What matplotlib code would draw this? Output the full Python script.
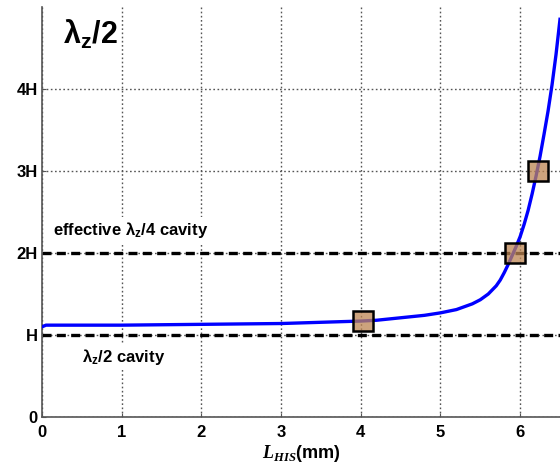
import matplotlib
matplotlib.use("Agg")
import matplotlib.pyplot as plt

# Resonant height of the structure versus HIS length
l_his = [0.0, 0.05, 1.0, 2.0, 3.0, 4.0, 4.2, 4.4, 4.6, 4.8, 5.0, 5.2, 5.4,
         5.5, 5.6, 5.7, 5.75, 5.8, 5.85, 5.9, 5.95, 6.0, 6.05, 6.1, 6.15,
         6.2, 6.25, 6.3, 6.35, 6.4, 6.45, 6.5]
height = [1.10, 1.12, 1.12, 1.13, 1.14, 1.17, 1.18, 1.20, 1.22, 1.24, 1.27,
          1.31, 1.38, 1.43, 1.50, 1.60, 1.67, 1.76, 1.86, 1.97, 2.08, 2.20,
          2.35, 2.52, 2.72, 2.94, 3.18, 3.45, 3.73, 4.05, 4.42, 4.85]

# Highlighted design points
pt_l = [4.03, 5.93, 6.23]
pt_h = [1.17, 2.0, 3.0]

# Reference cavity heights
cavity_levels = [1.0, 2.0]

x_ticks = [0, 1, 2, 3, 4, 5, 6]
y_ticks = [0, 1, 2, 3, 4]
y_tick_labels = ["0", "H", "2H", "3H", "4H"]

plt.rcParams["font.family"] = ["Liberation Sans", "DejaVu Sans"]
plt.rcParams["font.weight"] = "bold"
plt.rcParams["mathtext.fontset"] = "custom"
plt.rcParams["mathtext.rm"] = "Liberation Sans:bold"
plt.rcParams["mathtext.sf"] = "Liberation Sans:bold"
plt.rcParams["mathtext.it"] = "Liberation Sans:italic:bold"
plt.rcParams["mathtext.bf"] = "Liberation Sans:bold"
plt.rcParams["mathtext.bfit"] = "Liberation Serif:italic:bold"

fig = plt.figure(figsize=(5.6, 4.66), dpi=100)
ax = fig.add_axes([42 / 560, 49 / 466, 518 / 560, 410 / 466])

ax.set_xlim(0, 6.5)
ax.set_ylim(0, 5)

ax.grid(True, linestyle=(0, (1.2, 1.8)), color="#555555", linewidth=1.0, zorder=0)

for lvl in cavity_levels:
    ax.axhline(lvl, color="black", linewidth=2.4, linestyle=(0, (2.7, 1.6)), zorder=2)

ax.plot(l_his, height, color="#0000ff", linewidth=2.4, zorder=3)
ax.plot(pt_l, pt_h, linestyle="none", marker="s", markersize=15,
        markerfacecolor=(0.74, 0.52, 0.32, 0.75), markeredgecolor="black",
        markeredgewidth=1.8, zorder=4)

ax.set_xticks(x_ticks)
ax.set_yticks(y_ticks)
ax.set_yticklabels(y_tick_labels)
ax.tick_params(axis="both", labelsize=12, direction="in", length=3,
               color="#555555")
ax.tick_params(axis="x", pad=6)
ax.tick_params(axis="y", pad=3)
for lab in ax.get_xticklabels() + ax.get_yticklabels():
    lab.set_fontweight("bold")

for side in ("top", "right"):
    ax.spines[side].set_visible(False)
for side in ("left", "bottom"):
    ax.spines[side].set_color("#555555")
    ax.spines[side].set_linewidth(1.2)

ax.set_xlabel(r"$\mathbfit{L}_{\mathbfit{HIS}}$(mm)", fontsize=13,
              fontweight="bold", labelpad=2)

box = dict(facecolor="white", edgecolor="none", pad=2)
ax.text(0.26, 4.67, r"λ$_{\mathsf{z}}$/2", fontsize=22, fontweight="bold",
        ha="left", va="center", bbox=box, zorder=5)
ax.text(0.14, 2.28, r"effective λ$_{\mathsf{z}}$/4 cavity", fontsize=12,
        fontweight="bold", ha="left", va="center", bbox=box, zorder=5)
ax.text(0.50, 0.73, r"λ$_{\mathsf{z}}$/2 cavity", fontsize=12,
        fontweight="bold", ha="left", va="center", bbox=box, zorder=5)

fig.savefig("out.png", dpi=100)
